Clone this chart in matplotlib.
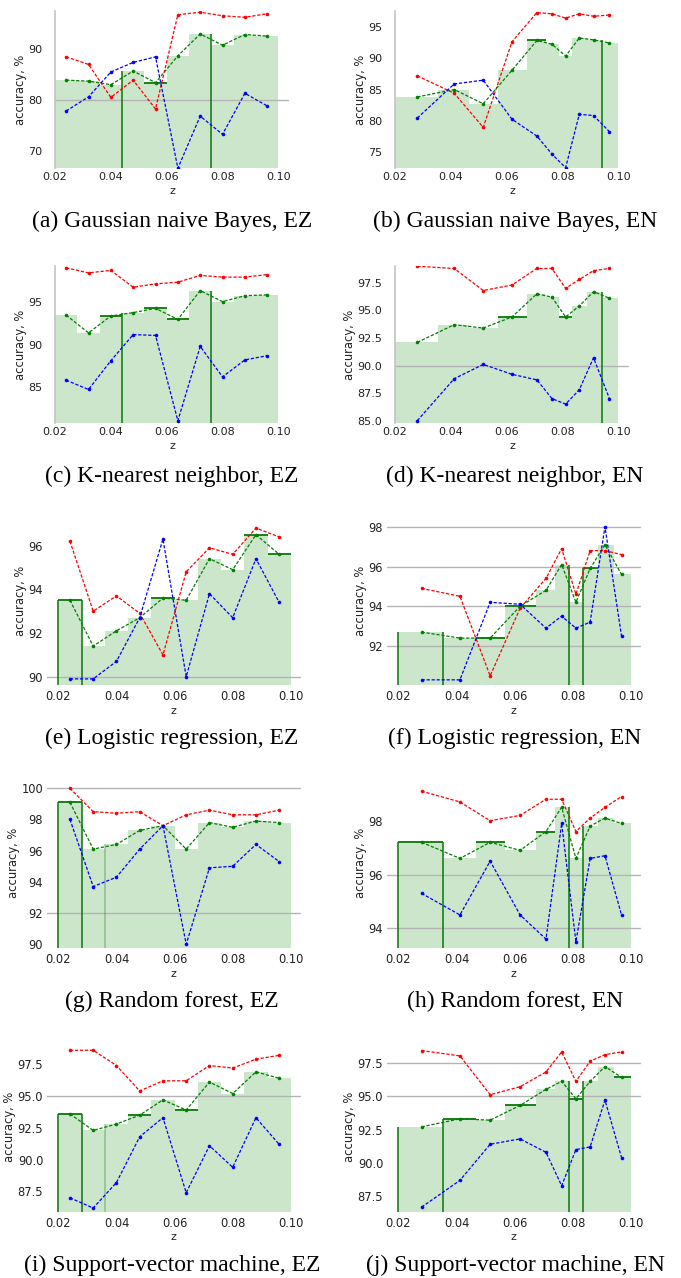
import matplotlib
matplotlib.use("Agg")
import matplotlib.pyplot as plt
import numpy as np

W, H = 681, 1278

# bin centres / edges of z (EZ uses equal bins, EN uses its own bins)
z_ez = [0.024, 0.032, 0.040, 0.048, 0.056, 0.064, 0.072, 0.080, 0.088, 0.096]
edges_ez = [0.020, 0.028, 0.036, 0.044, 0.052, 0.060, 0.068, 0.076, 0.084, 0.092, 0.100]
z_en = [0.0280, 0.0412, 0.0516, 0.0619, 0.0708, 0.0762, 0.0811, 0.0860, 0.0911, 0.0968]
edges_en = [0.020, 0.0355, 0.0466, 0.0568, 0.0673, 0.0740, 0.0786, 0.0834, 0.0887, 0.0941, 0.100]

# (a) Gaussian naive Bayes, EZ
red_a = [88.5, 87.0, 80.5, 83.9, 78.2, 96.8, 97.3, 96.6, 96.3, 97.0]
green_a = [83.9, 83.7, 83.0, 85.7, 83.4, 88.7, 93.0, 90.8, 92.9, 92.6]
blue_a = [77.8, 80.6, 85.5, 87.4, 88.5, 66.5, 76.8, 73.2, 81.3, 78.8]
# (b) Gaussian naive Bayes, EN
red_b = [87.2, 84.4, 78.9, 92.7, 97.4, 97.2, 96.5, 97.2, 96.8, 97.0]
green_b = [83.8, 85.0, 82.7, 88.1, 92.9, 92.3, 90.4, 93.3, 93.0, 92.5]
blue_b = [80.4, 85.9, 86.5, 80.2, 77.5, 74.6, 72.4, 81.0, 80.8, 78.2]
# (c) K-nearest neighbor, EZ
red_c = [99.1, 98.5, 98.8, 96.8, 97.2, 97.4, 98.2, 98.0, 98.0, 98.3]
green_c = [93.5, 91.4, 93.4, 93.8, 94.3, 93.0, 96.4, 95.1, 95.8, 95.9]
blue_c = [85.8, 84.7, 88.1, 91.2, 91.1, 81.0, 89.8, 86.2, 88.2, 88.7]
# (d) K-nearest neighbor, EN
red_d = [99.0, 98.8, 96.8, 97.3, 98.8, 98.8, 97.0, 97.8, 98.6, 98.8]
green_d = [92.1, 93.7, 93.4, 94.4, 96.5, 96.2, 94.4, 95.4, 96.7, 96.1]
blue_d = [85.0, 88.8, 90.1, 89.2, 88.7, 87.0, 86.5, 87.8, 90.7, 87.0]
# (e) Logistic regression, EZ
red_e = [96.2, 93.0, 93.7, 92.9, 91.0, 94.8, 95.9, 95.6, 96.8, 96.4]
green_e = [93.5, 91.4, 92.1, 92.7, 93.6, 93.5, 95.4, 94.9, 96.5, 95.6]
blue_e = [89.9, 89.9, 90.7, 92.7, 96.3, 90.0, 93.8, 92.7, 95.4, 93.4]
# (f) Logistic regression, EN
red_f = [94.9, 94.5, 90.5, 93.9, 95.4, 96.9, 94.6, 96.8, 96.8, 96.6]
green_f = [92.7, 92.4, 92.4, 94.0, 94.8, 96.1, 94.2, 95.9, 97.1, 95.6]
blue_f = [90.3, 90.3, 94.2, 94.1, 92.9, 93.5, 92.9, 93.2, 98.0, 92.5]
# (g) Random forest, EZ
red_g = [100.0, 98.5, 98.4, 98.5, 97.6, 98.3, 98.6, 98.3, 98.3, 98.6]
green_g = [99.1, 96.1, 96.4, 97.3, 97.6, 96.1, 97.8, 97.5, 97.9, 97.8]
blue_g = [98.0, 93.7, 94.3, 96.1, 97.6, 90.0, 94.9, 95.0, 96.4, 95.3]
# (h) Random forest, EN
red_h = [99.1, 98.7, 98.0, 98.2, 98.8, 98.8, 97.6, 98.1, 98.5, 98.9]
green_h = [97.2, 96.6, 97.2, 96.9, 97.6, 98.5, 96.6, 97.8, 98.1, 97.9]
blue_h = [95.3, 94.5, 96.5, 94.5, 93.6, 97.9, 93.5, 96.6, 96.7, 94.5]
# (i) Support-vector machine, EZ
red_i = [98.6, 98.6, 97.4, 95.4, 96.2, 96.2, 97.4, 97.2, 97.9, 98.2]
green_i = [93.6, 92.3, 92.8, 93.5, 94.7, 93.9, 96.1, 95.2, 96.9, 96.4]
blue_i = [87.0, 86.2, 88.2, 91.8, 93.3, 87.4, 91.1, 89.4, 93.3, 91.2]
# (j) Support-vector machine, EN
red_j = [98.4, 98.0, 95.1, 95.7, 96.8, 98.3, 96.1, 97.6, 98.1, 98.3]
green_j = [92.7, 93.3, 93.2, 94.3, 95.5, 96.1, 94.8, 96.1, 97.2, 96.4]
blue_j = [86.7, 88.7, 91.4, 91.8, 90.8, 88.3, 91.0, 91.2, 94.7, 90.4]

captions = ["(a) Gaussian naive Bayes, EZ", "(b) Gaussian naive Bayes, EN",
            "(c) K-nearest neighbor, EZ", "(d) K-nearest neighbor, EN",
            "(e) Logistic regression, EZ", "(f) Logistic regression, EN",
            "(g) Random forest, EZ", "(h) Random forest, EN",
            "(i) Support-vector machine, EZ", "(j) Support-vector machine, EN"]
reds = [red_a, red_b, red_c, red_d, red_e, red_f, red_g, red_h, red_i, red_j]
greens = [green_a, green_b, green_c, green_d, green_e, green_f, green_g, green_h, green_i, green_j]
blues = [blue_a, blue_b, blue_c, blue_d, blue_e, blue_f, blue_g, blue_h, blue_i, blue_j]

ylims = [(66.5, 97.6), (72.3, 97.7), (80.7, 99.35), (84.76, 99.05), (89.62, 97.31),
         (90.04, 98.49), (89.76, 100.66), (93.27, 99.59), (85.91, 99.25), (86.36, 99.04)]
yticks = [[70, 80, 90], [75, 80, 85, 90, 95], [85, 90, 95],
          [85.0, 87.5, 90.0, 92.5, 95.0, 97.5], [90, 92, 94, 96], [92, 94, 96, 98],
          [90, 92, 94, 96, 98, 100], [94, 96, 98],
          [87.5, 90.0, 92.5, 95.0, 97.5], [87.5, 90.0, 92.5, 95.0, 97.5]]
yfmt = ["%d", "%d", "%d", "%.1f", "%d", "%d", "%d", "%d", "%.1f", "%.1f"]
gridlines = [[80], [], [], [90.0], [90], [92, 94, 96, 98], [100, 92], [96, 94], [95.0], [97.5, 95.0]]
# highlighted bin edges / bin tops (dark green outline)
edge_marks = [[3, 7], [9], [3, 7], [9], [0, 1], [0, 1, 6, 7], [0, 1], [0, 1, 6, 7], [0, 1], [0, 1, 6, 7]]
faint_edges = [[], [], [], [], [], [], [2], [], [2], []]
top_marks = [[4], [4], [2, 4, 5], [3, 6], [0, 4, 8, 9], [2, 3, 7], [0], [0, 2, 4], [0, 3, 5], [1, 3, 6, 9]]

# axes boxes in pixels: (top, bottom) per row; (left, right) per column
rows = [(10.7, 168.3), (265.7, 423.3), (517, 685), (778, 948), (1042, 1211.7)]
cols_top = [(55, 289), (395, 629)]
cols_bot = [(46.7, 301), (386.7, 641)]

fill_col = (0.8, 0.9, 0.8)
dk_green = "#1a7f1a"
txt = "#222222"
ls = (0, (2.6, 1.4))

fig = plt.figure(figsize=(W / 100, H / 100), dpi=100)

for i in range(10):
    r, c = divmod(i, 2)
    top, bot = rows[r]
    left, right = (cols_top if r < 2 else cols_bot)[c]
    ax = fig.add_axes([left / W, 1 - bot / H, (right - left) / W, (bot - top) / H])

    ez = (c == 0)
    zs = z_ez if ez else z_en
    edges = np.array(edges_ez if ez else edges_en)
    g = np.array(greens[i])

    # bins filled to the mean accuracy
    ax.bar(edges[:-1], g, width=np.diff(edges), align="edge", color=fill_col,
           linewidth=0, zorder=1)
    for gy in gridlines[i]:
        ax.axhline(gy, color="#b4b4b4", lw=1.0, zorder=1.5)

    y0 = ylims[i][0]
    for k in edge_marks[i] + faint_edges[i]:
        adj = [g[j] for j in (k - 1, k) if 0 <= j < len(g)]
        a = 0.35 if k in faint_edges[i] else 1.0
        ax.vlines(edges[k], y0, max(adj), color=dk_green, lw=1.2, alpha=a, zorder=2)
    for k in top_marks[i]:
        ax.hlines(g[k], edges[k], edges[k + 1], color=dk_green, lw=1.4, zorder=2)

    for vals, col in ((reds[i], "#ff0000"), (greens[i], "#008000"), (blues[i], "#0000ff")):
        ax.plot(zs, vals, color=col, lw=0.9, linestyle=ls, marker="o", ms=2.6,
                markeredgewidth=0, zorder=3)

    ax.set_ylim(*ylims[i])
    ax.set_yticks(yticks[i])
    ax.set_yticklabels([yfmt[i] % v for v in yticks[i]])
    ax.set_xticks([0.02, 0.04, 0.06, 0.08, 0.10])
    ax.set_xticklabels(["0.02", "0.04", "0.06", "0.08", "0.10"])
    for s in ax.spines.values():
        s.set_visible(False)
    if r < 2:
        ax.set_xlim(0.02, 0.1038)
        ax.spines["left"].set_visible(True)
        ax.spines["left"].set_color("#c4c4c4")
        ax.spines["left"].set_linewidth(1.2)
        ax.tick_params(axis="y", length=0, pad=9, labelsize=8, labelcolor=txt)
        ax.tick_params(axis="x", length=0, pad=2.5, labelsize=8, labelcolor=txt)
        ax.set_xlabel("z", fontsize=8, labelpad=3, color=txt)
    else:
        ax.set_xlim(0.016, 0.1035)
        ax.tick_params(axis="y", length=0, pad=2.5, labelsize=8.3, labelcolor=txt)
        ax.tick_params(axis="x", length=0, pad=3.5, labelsize=8.3, labelcolor=txt)
        ax.set_xlabel("z", fontsize=8, labelpad=2, color=txt)
    ax.set_ylabel("accuracy, %", fontsize=8.3, labelpad=1, color=txt)

    cx = 172 if c == 0 else 515
    fig.text(cx / W, 1 - (bot + 53.5) / H, captions[i], ha="center", va="center",
             fontsize=17, family=["Liberation Serif", "DejaVu Serif"])

fig.savefig("out.png", dpi=100)
